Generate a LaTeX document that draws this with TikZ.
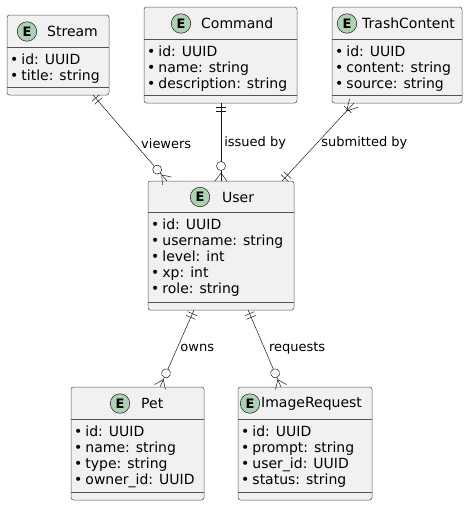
\documentclass[tikz,border=0pt]{standalone}
\usepackage{fontspec}
\setmainfont{DejaVu Sans}
\usetikzlibrary{positioning,decorations.markings}

\definecolor{entfill}{HTML}{F1F1F1}
\definecolor{entdraw}{HTML}{181818}
\definecolor{entmark}{HTML}{ADD1B2}

\tikzset{
  entity/.style={draw=entdraw!75, fill=entfill, line width=0.5pt, rounded corners=2.5pt,
    anchor=north west, inner sep=0pt, outer sep=0pt},
  sepline/.style={draw=entdraw!75, line width=0.5pt},
  ecirc/.style={circle, draw=entdraw, fill=entmark, line width=0.5pt, minimum size=19.5pt,
    inner sep=0pt, font=\fontsize{13}{13}\selectfont\bfseries},
  etitle/.style={anchor=west, inner sep=0pt, font=\fontsize{14}{16}\selectfont},
  attrs/.style={anchor=north west, inner sep=0pt, align=left, font=\fontsize{14}{16}\selectfont},
  conn/.style={draw=entdraw, line width=0.5pt},
  rel/.style={anchor=west, inner sep=0pt, font=\fontsize{13}{15}\selectfont},
  one start/.style={postaction={decorate,decoration={markings,mark=at position 0 with
    {\draw[conn] (4pt,-5pt) -- (4pt,5pt) (8pt,-5pt) -- (8pt,5pt);}}}},
  one end/.style={postaction={decorate,decoration={markings,mark=at position 1 with
    {\draw[conn] (-4pt,-5pt) -- (-4pt,5pt) (-8pt,-5pt) -- (-8pt,5pt);}}}},
  many start/.style={postaction={decorate,decoration={markings,mark=at position 0 with
    {\draw[conn] (0pt,6pt) -- (11pt,0pt) -- (0pt,-6pt) (9pt,-5pt) -- (9pt,5pt);}}}},
  zmany end/.style={postaction={decorate,decoration={markings,mark=at position 1 with
    {\draw[conn] (0pt,6pt) -- (-8pt,0pt) -- (0pt,-6pt);
     \draw[conn, fill=white] (-15pt,0pt) circle[radius=4.5pt];}}}}
}

\newcommand{\bul}{•\hspace{3pt}}

\begin{document}
\begin{tikzpicture}[x=1pt,y=-1pt]
\useasboundingbox (0,0) rectangle (467,506);

% Stream
\node[entity, minimum width=102pt, minimum height=80pt] (stream) at (7,15) {};
\draw[sepline] ([yshift=-32pt]stream.north west) -- ([yshift=-32pt]stream.north east);
\draw[sepline] ([yshift=7.5pt]stream.south west) -- ([yshift=7.5pt]stream.south east);
\node[ecirc] (streamE) at (27,31.5) {E};
\node[etitle] (streamT) at (47,31.5) {Stream};
\node[attrs] (streamA) at (10,53.3) {\strut\bul id: UUID\\\strut\bul title: string};

% Command
\node[entity, minimum width=153pt, minimum height=96pt] (command) at (144,7) {};
\draw[sepline] ([yshift=-32pt]command.north west) -- ([yshift=-32pt]command.north east);
\draw[sepline] ([yshift=7.5pt]command.south west) -- ([yshift=7.5pt]command.south east);
\node[ecirc] (commandE) at (181,23.5) {E};
\node[etitle] (commandT) at (201,23.5) {Command};
\node[attrs] (commandA) at (147,45.5)
  {\strut\bul id: UUID\\\strut\bul name: string\\\strut\bul description: string};

% TrashContent
\node[entity, minimum width=130pt, minimum height=96pt] (trash) at (332,7) {};
\draw[sepline] ([yshift=-32pt]trash.north west) -- ([yshift=-32pt]trash.north east);
\draw[sepline] ([yshift=7.5pt]trash.south west) -- ([yshift=7.5pt]trash.south east);
\node[ecirc] (trashE) at (347,23.5) {E};
\node[etitle] (trashT) at (362,23.5) {TrashContent};
\node[attrs] (trashA) at (335,45.5)
  {\strut\bul id: UUID\\\strut\bul content: string\\\strut\bul source: string};

% User
\node[entity, minimum width=146pt, minimum height=129pt] (user) at (148,181) {};
\draw[sepline] ([yshift=-31pt]user.north west) -- ([yshift=-31pt]user.north east);
\draw[sepline] ([yshift=8pt]user.south west) -- ([yshift=8pt]user.south east);
\node[ecirc] (userE) at (200,197) {E};
\node[etitle] (userT) at (222,197) {User};
\node[attrs] (userA) at (151,218.5)
  {\strut\bul id: UUID\\\strut\bul username: string\\\strut\bul level: int\\
   \strut\bul xp: int\\\strut\bul role: string};

% Pet
\node[entity, minimum width=133pt, minimum height=113pt] (pet) at (71,387) {};
\draw[sepline] ([yshift=-32pt]pet.north west) -- ([yshift=-32pt]pet.north east);
\draw[sepline] ([yshift=7.5pt]pet.south west) -- ([yshift=7.5pt]pet.south east);
\node[ecirc] (petE) at (120,403.5) {E};
\node[etitle] (petT) at (141,403.5) {Pet};
\node[attrs] (petA) at (74,425.5)
  {\strut\bul id: UUID\\\strut\bul name: string\\\strut\bul type: string\\\strut\bul owner\_id: UUID};

% ImageRequest
\node[entity, minimum width=134pt, minimum height=113pt] (imgreq) at (238,387) {};
\draw[sepline] ([yshift=-32pt]imgreq.north west) -- ([yshift=-32pt]imgreq.north east);
\draw[sepline] ([yshift=7.5pt]imgreq.south west) -- ([yshift=7.5pt]imgreq.south east);
\node[ecirc] (imgreqE) at (250,403.5) {E};
\node[etitle] (imgreqT) at (261,403.5) {ImageRequest};
\node[attrs] (imgreqA) at (241,425.5)
  {\strut\bul id: UUID\\\strut\bul prompt: string\\\strut\bul user\_id: UUID\\\strut\bul status: string};

% relations
\draw[conn, one start, zmany end] ([xshift=35pt]stream.south) --
  node[rel, pos=0.56, xshift=6.5pt] (viewersL) {viewers} ([xshift=-54pt]user.north);
\draw[conn, one start, zmany end] ([xshift=0.5pt]command.south) --
  node[rel, pos=0.513, xshift=3pt] (issuedL) {issued by} (user.north);
\draw[conn, many start, one end] ([xshift=-43pt]trash.south) --
  node[rel, pos=0.513, xshift=4pt] (submittedL) {submitted by} ([xshift=61pt]user.north);
\draw[conn, one start, zmany end] ([xshift=-27pt]user.south) --
  node[rel, pos=0.494, xshift=3pt] (ownsL) {owns} ([xshift=22.5pt]pet.north);
\draw[conn, one start, zmany end] ([xshift=27pt]user.south) --
  node[rel, pos=0.494, xshift=4.5pt] (requestsL) {requests} ([xshift=-24pt]imgreq.north);
\end{tikzpicture}
\end{document}
